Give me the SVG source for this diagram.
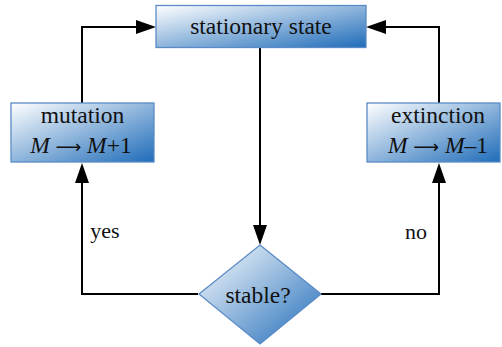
<svg xmlns="http://www.w3.org/2000/svg" width="502" height="347" viewBox="0 0 502 347">
<defs>
<linearGradient id="g" x1="0" y1="0" x2="1" y2="1">
<stop offset="0" stop-color="#ffffff"/>
<stop offset="1" stop-color="#1f6cb9"/>
</linearGradient>
<marker id="arr" markerUnits="userSpaceOnUse" markerWidth="20" markerHeight="14" refX="4" refY="7" orient="auto" viewBox="0 0 20 14">
<path d="M0,0 L20,7 L0,14 z" fill="#000"/>
</marker>
</defs>
<style>
.box{fill:url(#g);stroke:#5b8bc7;stroke-width:1.3}
.t{font-family:'Liberation Serif','DejaVu Serif',serif;font-size:23.5px;fill:#111;text-anchor:middle}
.l{font-family:'Liberation Serif','DejaVu Serif',serif;font-size:22px;fill:#111;text-anchor:middle}
.a{font-family:'DejaVu Sans',sans-serif;font-size:18px}
.c{fill:none;stroke:#000;stroke-width:2}
</style>
<rect width="502" height="347" fill="#fff"/>
<g id="connectors">
<path class="c" d="M260,48 V229" marker-end="url(#arr)"/>
<path class="c" d="M82,103 V27 H140" marker-end="url(#arr)"/>
<path class="c" d="M439,103 V27 H382" marker-end="url(#arr)"/>
<path class="c" d="M198,294 H82 V179" marker-end="url(#arr)"/>
<path class="c" d="M321,294 H439 V179" marker-end="url(#arr)"/>
<text class="l" x="105" y="238">yes</text>
<text class="l" x="416" y="239">no</text>
</g>
<g id="stationary">
<rect class="box" x="156" y="5.5" width="210" height="42"/>
<text class="t" x="261" y="34">stationary state</text>
</g>
<g id="mutation">
<rect class="box" x="11" y="103" width="143" height="59"/>
<text class="t" x="82.5" y="123">mutation</text>
<text class="t" x="81" y="153"><tspan font-style="italic">M</tspan><tspan class="a"> ⟶ </tspan><tspan font-style="italic">M</tspan>+1</text>
</g>
<g id="extinction">
<rect class="box" x="367" y="103" width="133" height="59"/>
<text class="t" x="438" y="123">extinction</text>
<text class="t" x="438" y="153"><tspan font-style="italic">M</tspan><tspan class="a"> ⟶ </tspan><tspan font-style="italic">M</tspan>–1</text>
</g>
<g id="stable">
<path class="box" d="M260,245 L321,294 L260,344 L199,294 z"/>
<text class="t" x="258" y="302.5">stable?</text>
</g>
</svg>
